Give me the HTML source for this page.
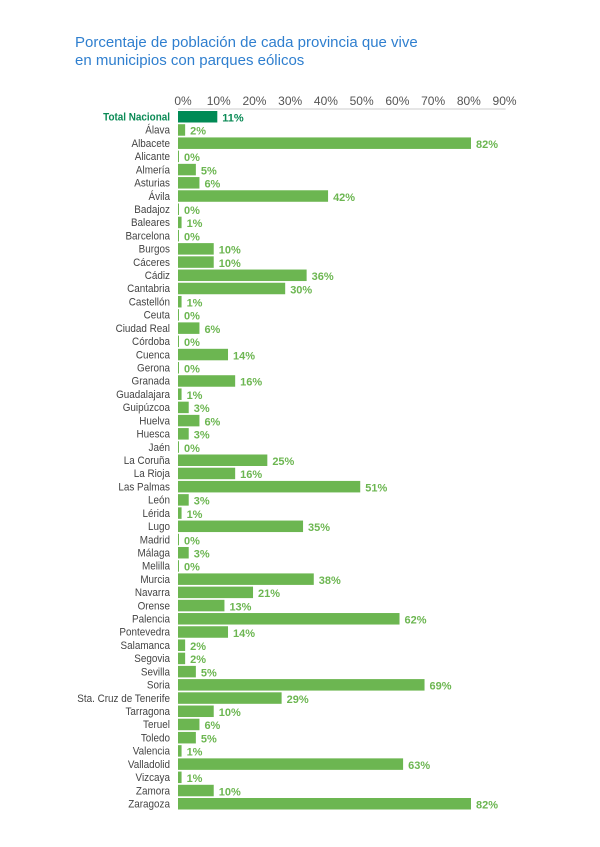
<!DOCTYPE html>
<html><head><meta charset="utf-8"><style>
body{margin:0;background:#fff;width:600px;height:847px;overflow:hidden;font-family:"Liberation Sans",sans-serif}
.title{position:absolute;left:75px;top:34px;font-size:15px;line-height:18px;color:#2f7fcf}
</style></head><body>
<div class="title">Porcentaje de población de cada provincia que vive<br>en municipios con parques eólicos</div>
<svg id="chart" width="600" height="847" style="position:absolute;left:0;top:0"></svg>
<script>
const categories=["Total Nacional","Álava","Albacete","Alicante","Almería","Asturias","Ávila","Badajoz","Baleares","Barcelona","Burgos","Cáceres","Cádiz","Cantabria","Castellón","Ceuta","Ciudad Real","Córdoba","Cuenca","Gerona","Granada","Guadalajara","Guipúzcoa","Huelva","Huesca","Jaén","La Coruña","La Rioja","Las Palmas","León","Lérida","Lugo","Madrid","Málaga","Melilla","Murcia","Navarra","Orense","Palencia","Pontevedra","Salamanca","Segovia","Sevilla","Soria","Sta. Cruz de Tenerife","Tarragona","Teruel","Toledo","Valencia","Valladolid","Vizcaya","Zamora","Zaragoza"];
const values=[11,2,82,0,5,6,42,0,1,0,10,10,36,30,1,0,6,0,14,0,16,1,3,6,3,0,25,16,51,3,1,35,0,3,0,38,21,13,62,14,2,2,5,69,29,10,6,5,1,63,1,10,82];
const ticks=[0,10,20,30,40,50,60,70,80,90];
const svg=document.getElementById('chart');const NS='http://www.w3.org/2000/svg';
const x0=178,k=3.573,y0=111,step=(804-117)/(categories.length-1),bh=11.5;
const xs=v=>x0+v*k, ys=i=>y0+i*step;
function mk(t,a){const e=document.createElementNS(NS,t);for(const p in a)e.setAttribute(p,a[p]);svg.appendChild(e);return e;}
const ax=mk('line',{x1:x0,x2:xs(90)+6,y1:109,y2:109,stroke:'#ccc','stroke-width':1});


ticks.forEach(t=>{const e=mk('text',{x:xs(t)+5,y:105,'text-anchor':'middle','font-size':12,fill:'#555'});e.textContent=t+'%';

});
categories.forEach((c,i)=>{const tot=i===0;
const l=mk('text',{x:170,y:ys(i)+9.5,'text-anchor':'end','font-size':11,fill:tot?'#0a8a55':'#444','font-weight':tot?'bold':'normal',transform:'translate(17,0) scale(0.9,1)'});l.textContent=c;


const w=Math.max(values[i]*k,values[i]>0?2.5:1);
const r=mk('rect',{x:x0,y:ys(i),width:w,height:bh,fill:tot?'#008a55':'#6cb651'});


const v=mk('text',{x:x0+w+5,y:ys(i)+10.5,'font-size':11,'font-weight':'bold',fill:tot?'#0a8a55':'#6cb651'});v.textContent=values[i]+'%';

});
</script>
</body></html>
